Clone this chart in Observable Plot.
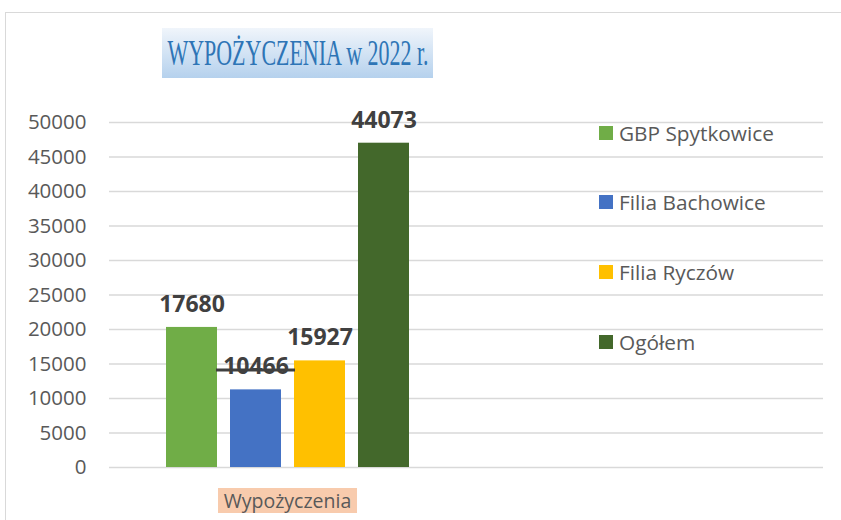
<!DOCTYPE html>
<html><head><meta charset="utf-8">
<script src="https://cdn.jsdelivr.net/npm/d3@7"></script>
<script src="https://cdn.jsdelivr.net/npm/@observablehq/plot@0.6"></script>
<style>
body{margin:0;background:#fff;}
#wrap{position:relative;width:841px;height:520px;overflow:hidden;font-family:"Open Sans",sans-serif;}
#border{position:absolute;left:5px;top:12px;width:900px;height:600px;border-left:1px solid #d9d9d9;border-top:1.5px solid #d9d9d9;}
#title{position:absolute;left:162px;top:28px;width:271px;height:50px;background:linear-gradient(#f0f5fb,#b5d1ed);display:flex;align-items:center;justify-content:center;white-space:nowrap;overflow:visible;}
#title span{display:inline-block;font-family:"Liberation Serif",serif;font-size:36px;color:#2e75b6;transform:scaleX(0.61);transform-origin:center;white-space:nowrap;}
#xlab{position:absolute;left:218px;top:488px;width:139px;height:25px;background:#f8cbad;color:#595959;font-size:19.5px;line-height:25px;text-align:center;white-space:nowrap;}
.leg{position:absolute;left:599px;height:20px;display:flex;align-items:center;color:#595959;font-size:20.8px;white-space:nowrap;}
.leg span.sw{display:inline-block;width:14px;height:14px;margin-right:6px;}
#chart{position:absolute;left:0;top:0;}
</style></head>
<body>
<div id="wrap">
<div id="border"></div>
<div id="chart"></div>
<div id="title"><span id="titletext"></span></div>
<div id="xlab"></div>
</div>
<script>
const title = "WYPOŻYCZENIA w 2022 r.";
const category = "Wypożyczenia";
const series = ["GBP Spytkowice", "Filia Bachowice", "Filia Ryczów", "Ogółem"];
const barValues = [20300, 11250, 15450, 47000];
const labelTexts = ["17680", "10466", "15927", "44073"];
const colors = ["#70ad47", "#4472c4", "#ffc000", "#43682b"];
const yTicks = [0, 5000, 10000, 15000, 20000, 25000, 30000, 35000, 40000, 45000, 50000];

const data = series.map((s, i) => ({series: s, value: barValues[i], label: labelTexts[i]}));

const chart = Plot.plot({
  width: 841, height: 520,
  marginLeft: 109, marginRight: 18, marginTop: 122, marginBottom: 53,
  style: {fontFamily: "Open Sans, sans-serif", background: "transparent"},
  x: {domain: series, range: [165, 410.5], paddingInner: 0.2, paddingOuter: 0, axis: null},
  y: {domain: [0, 50000]},
  color: {domain: series, range: colors},
  marks: [
    Plot.gridY(yTicks, {stroke: "#d9d9d9", strokeOpacity: 1, strokeWidth: 1.5}),
    Plot.axisY(yTicks, {tickSize: 0, tickPadding: 23, fontSize: 20.5, fill: "#595959", label: null, tickFormat: d => String(d)}),
    Plot.barY(data, {x: "series", y: "value", fill: "series"}),
    Plot.text(data, {x: "series", y: "value", text: "label", dy: -23, fontWeight: "bold", fontSize: 23, fill: "#404040"}),
    Plot.tickY([data[1]], {x: "series", y: "value", dy: -20, insetLeft: -14, insetRight: -14, stroke: "#404040", strokeWidth: 3})
  ]
});
document.getElementById("chart").appendChild(chart);
document.getElementById("titletext").textContent = title;
document.getElementById("xlab").textContent = category;

const legTops = [133, 202, 272, 342];
series.forEach((s, i) => {
  const d = document.createElement("div");
  d.className = "leg";
  d.style.top = (legTops[i] - 10) + "px";
  const sw = document.createElement("span");
  sw.className = "sw";
  sw.style.background = colors[i];
  d.appendChild(sw);
  d.appendChild(document.createTextNode(s));
  document.getElementById("wrap").appendChild(d);
});
</script>
</body></html>
